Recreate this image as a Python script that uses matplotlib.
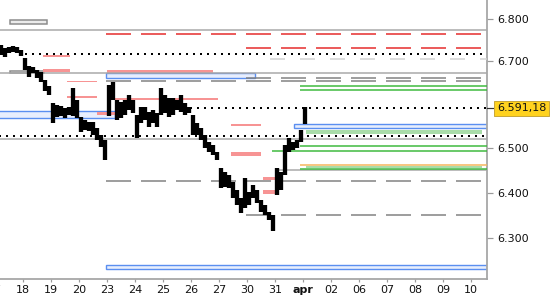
import matplotlib
matplotlib.use('Agg')
import matplotlib.pyplot as plt
from matplotlib.patches import Rectangle
from matplotlib.ticker import FixedLocator, NullLocator, FuncFormatter
import matplotlib.transforms as mtransforms

plt.rcParams['lines.scale_dashes'] = False
plt.rcParams['font.family'] = ['DejaVu Sans']

# ---- data ----
day_labels = ['17', '18', '19', '20', '23', '24', '25', '26', '27', '30', '31',
              'apr', '02', '06', '07', '08', '09', '10']

bar_hi = [
    [6740, 6738, 6731, 6733, 6736, 6733, 6726],
    [6708, 6689, 6687, 6680, 6675, 6656, 6643],
    [6603, 6599, 6597, 6592, 6594, 6638, 6610],
    [6571, 6564, 6560, 6560, 6546, 6530, 6519],
    [6645, 6652, 6610, 6606, 6610, 6622, 6610],
    [6576, 6594, 6594, 6583, 6587, 6581, 6638],
    [6622, 6615, 6615, 6610, 6622, 6603, 6594],
    [6576, 6558, 6546, 6530, 6514, 6508, 6492],
    [6456, 6447, 6440, 6424, 6407, 6389, 6434],
    [6402, 6418, 6407, 6385, 6374, 6358, 6351],
    [6456, 6447, 6508, 6524, 6514, 6519, 6542],
    [6594],
]
bar_lo = [
    [6722, 6715, 6710, 6719, 6722, 6719, 6712],
    [6680, 6663, 6673, 6661, 6652, 6632, 6622],
    [6558, 6571, 6574, 6569, 6576, 6574, 6569],
    [6537, 6542, 6540, 6530, 6519, 6503, 6474],
    [6574, 6610, 6564, 6569, 6576, 6587, 6581],
    [6524, 6558, 6565, 6549, 6558, 6549, 6576],
    [6581, 6571, 6576, 6587, 6583, 6576, 6581],
    [6530, 6530, 6519, 6501, 6492, 6485, 6474],
    [6411, 6413, 6411, 6389, 6374, 6356, 6367],
    [6374, 6389, 6378, 6358, 6351, 6340, 6316],
    [6396, 6407, 6440, 6492, 6496, 6501, 6514],
    [6556],
]
last_price = 6591.18
last_label = '6.591,18'

y_ticks = [6300, 6400, 6500, 6700, 6800]

grey_solid_levels = [6773, 6673, 6521, 6451]
grey_solid_start = [-1, -1, -1, 10.0]
dotted_levels = [6716, 6529, last_price]
dotted_start = [1.07, -1, 6.96]
red_dash_levels = [6764, 6730]
red_dash_start = [3.96, 8.96]
grey_dash_levels = [6654, 6662, 6426, 6351]
grey_dash_start = [3.96, 8.96, 3.96, 8.96]
light_dash_levels = [6705]
light_dash_start = [9.82]
green_levels = [6643, 6633, 6505, 6494, 6454]
green_start = [10.89, 10.89, 10.89, 9.89, 10.89]
orange_levels = [6462]
orange_start = [10.89]
green_bands = [(11.11, 17.39, 6533, 6542), (11.11, 17.39, 6455, 6461)]
blue_boxes = [(3.96, 9.29, 6660.5, 6673.5), (-1, 4.29, 6568.5, 6585),
              (10.68, 18, 6546, 6555.5), (3.96, 18, 6232.5, 6242)]
grey_box_filled = [(0.54, 1.86, 6787, 6797)]
grey_box_outline = [(0.54, 1.75, 6672, 6677.5)]
salmon_bands = [
    (1.71, 2.68, 6710, 6714),
    (1.71, 2.68, 6675, 6682),
    (2.57, 3.64, 6653, 6655),
    (2.57, 3.64, 6615, 6620),
    (3.64, 4.29, 6577, 6584),
    (4.00, 7.79, 6673, 6680),
    (4.00, 7.96, 6611, 6616),
    (8.43, 9.50, 6550, 6555),
    (8.43, 9.50, 6484, 6492),
    (9.57, 10.00, 6428, 6435),
    (9.57, 10.07, 6397, 6406),
]

# ---- figure ----
PX = 0.72  # points per pixel at 100 dpi
fig = plt.figure(figsize=(5.5, 3), dpi=100)
ax = fig.add_axes([0, 21 / 300, 487 / 550, 279 / 300])
ax.set_yscale('log')
ax.set_ylim(6211.5, 6844.4)
XMIN, XMAX = 5 / 28, 492 / 28
ax.set_xlim(XMIN, XMAX)

def seg(level, start, **kw):
    ax.hlines(level, max(start, XMIN - 1), XMAX + 1, **kw)

# rectangles
for x0, x1, lo, hi in blue_boxes:
    ax.add_patch(Rectangle((x0, lo), x1 - x0, hi - lo, fc='#e8eefd', ec='#5b8ff0',
                           lw=1.4 * PX, zorder=2))
for x0, x1, lo, hi in grey_box_filled:
    ax.add_patch(Rectangle((x0, lo), x1 - x0, hi - lo, fc='#ebebeb', ec='#8a8a8a',
                           lw=1.5 * PX, zorder=2))
for x0, x1, lo, hi in grey_box_outline:
    ax.add_patch(Rectangle((x0, lo), x1 - x0, hi - lo, fc='none', ec='#8a8a8a',
                           lw=1.5 * PX, zorder=2))
for x0, x1, lo, hi in salmon_bands:
    ax.add_patch(Rectangle((x0, lo), x1 - x0, hi - lo, fc='#f79494', ec='none', zorder=3))
for x0, x1, lo, hi in green_bands:
    ax.add_patch(Rectangle((x0, lo), x1 - x0, hi - lo, fc='#a9dca9', ec='none', zorder=2))

# lines
for lv, st in zip(grey_solid_levels, grey_solid_start):
    seg(lv, st, colors='#a8a8a8', lw=1.5 * PX, zorder=3)
for lv, st in zip(red_dash_levels, red_dash_start):
    seg(lv, st, colors='#e52828', lw=1.5 * PX, linestyles=[(0, (25 * PX, 10 * PX))], zorder=3)
for lv, st in zip(grey_dash_levels, grey_dash_start):
    seg(lv, st, colors='#808080', lw=1.5 * PX, linestyles=[(0, (25 * PX, 10 * PX))], zorder=3)
for lv, st in zip(light_dash_levels, light_dash_start):
    seg(lv, st, colors='#d2d2d2', lw=1.5 * PX, linestyles=[(0, (15 * PX, 15 * PX))], zorder=3)
for lv, st in zip(green_levels, green_start):
    seg(lv, st, colors='#3cb93c', lw=1.5 * PX, zorder=3)
for lv, st in zip(orange_levels, orange_start):
    seg(lv, st, colors='#f5b55a', lw=1.5 * PX, zorder=3)
for lv, st in zip(dotted_levels, dotted_start):
    seg(lv, st, colors='black', lw=2 * PX, linestyles=[(0, (2 * PX, 5 * PX))], zorder=4)

# price bars
for d, (his, los) in enumerate(zip(bar_hi, bar_lo)):
    xs = [d + (k + 0.5) / 7 for k in range(len(his))]
    ax.vlines(xs, los, his, colors='black', lw=4.3 * PX, zorder=10)

# axes styling
for s in ['left', 'top']:
    ax.spines[s].set_visible(False)
for s in ['right', 'bottom']:
    ax.spines[s].set_color('#a6a6a6')
    ax.spines[s].set_linewidth(1.8 * PX)
ax.yaxis.tick_right()
ax.yaxis.set_major_locator(FixedLocator(y_ticks))
ax.yaxis.set_minor_locator(NullLocator())
ax.yaxis.set_major_formatter(FuncFormatter(lambda v, p: f"{int(round(v)) // 1000}.{int(round(v)) % 1000:03d}"))
ax.tick_params(axis='y', which='major', direction='out', length=6 * PX, width=1.2 * PX,
               color='#9a9a9a', pad=4 * PX, labelsize=8, labelcolor='#111111')
ax.tick_params(axis='y', which='minor', length=0)
ax.set_xticks(range(1, len(day_labels)))
ax.set_xticklabels(day_labels[1:])
ax.tick_params(axis='x', direction='out', length=3 * PX, width=1.2 * PX, color='#9a9a9a',
               pad=3 * PX, labelsize=8, labelcolor='#111111')
for t in ax.get_xticklabels():
    if t.get_text() == 'apr':
        t.set_fontweight('bold')

bt = mtransforms.blended_transform_factory(ax.transData, ax.transAxes)
ax.annotate(day_labels[0], xy=(0, 0), xycoords=bt, xytext=(0, -6 * PX), textcoords='offset points',
            ha='center', va='top', fontsize=8, color='#111111', annotation_clip=False)

by = mtransforms.blended_transform_factory(ax.transAxes, ax.transData)
ax.plot([1, 1 + 6 / 487], [last_price, last_price], transform=by, color='#333333',
        lw=1.2 * PX, clip_on=False, zorder=11)
ax.text(497 / 487, last_price, last_label, transform=by, ha='left', va='center', fontsize=8,
        color='#111111', clip_on=False, zorder=12,
        bbox=dict(boxstyle='square,pad=0.25', fc='#ffd21f', ec='#c9a83a', lw=1 * PX))

fig.savefig('out.png', dpi=100)
